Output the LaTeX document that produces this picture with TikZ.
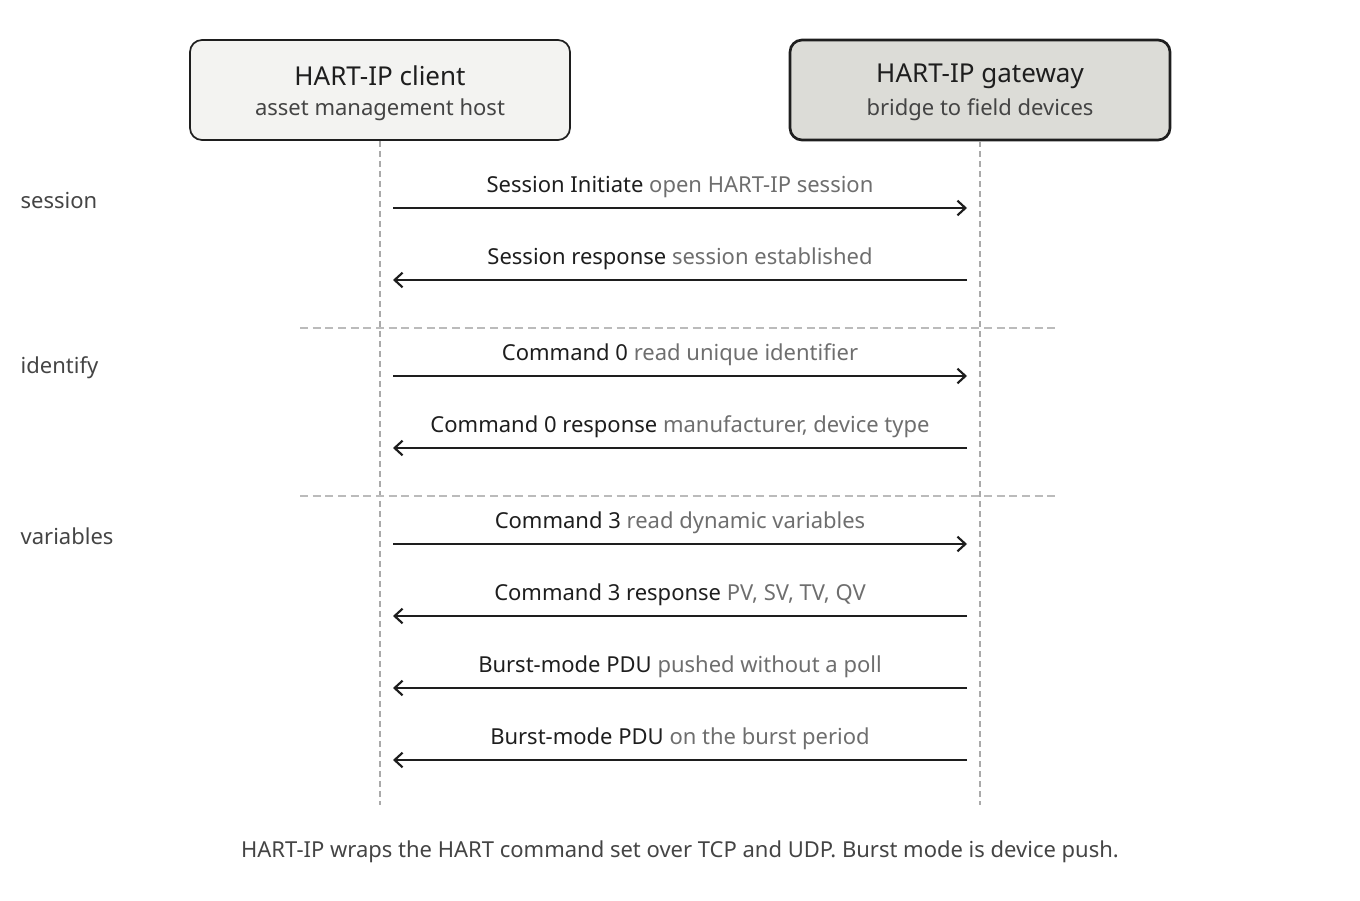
\documentclass[tikz,border=0pt]{standalone}
\usepackage{fontspec}
\setmainfont{Noto Sans}
\usetikzlibrary{arrows.meta}
\definecolor{boxa}{HTML}{F3F3F1}
\definecolor{boxb}{HTML}{DCDCD7}
\definecolor{ink}{HTML}{1E1E1E}
\definecolor{sub}{HTML}{444444}
\definecolor{note}{HTML}{6E6E6E}
\definecolor{life}{HTML}{AAAAAA}
\begin{document}
\begin{tikzpicture}[x=0.75pt,y=-0.75pt,
  actor/.style={draw=ink,rounded corners=9pt,minimum width=285pt,minimum height=75pt,align=center,inner sep=0pt},
  lifeline/.style={draw=life,dash pattern=on 4.5pt off 3pt,line width=0.9pt},
  sep/.style={draw=life!80,dash pattern=on 6pt off 3.5pt,line width=0.8pt},
  msg/.style={draw=ink,line width=1.6pt,-{Straight Barb[length=6pt,width=11pt,line width=1.6pt]}},
  lbl/.style={font=\fontsize{16.5}{18}\selectfont,text=ink,anchor=base},
  sec/.style={font=\fontsize{16.5}{18}\selectfont,text=sub,anchor=west}]
\useasboundingbox (0,0) rectangle (1360,900);
\node[actor,fill=boxa,line width=1.3pt] (c) at (380,90) {};
\node[actor,fill=boxb,line width=2pt] (g) at (980,90) {};
\node[font=\fontsize{19.5}{22}\selectfont,text=ink] at (380,76) {HART-IP client};
\node[font=\fontsize{16.5}{18}\selectfont,text=sub] at (380,110) {asset management host};
\node[font=\fontsize{19.5}{22}\selectfont,text=ink] at (980,76) {HART-IP gateway};
\node[font=\fontsize{16.5}{18}\selectfont,text=sub] at (980,110) {bridge to field devices};
\coordinate (ce) at (380,805); \coordinate (ge) at (980,805);
\draw[lifeline] (c.south) -- (ce);
\draw[lifeline] (g.south) -- (ge);
\coordinate (s1a) at (300,328); \coordinate (s1b) at (1060,328);
\coordinate (s2a) at (300,496); \coordinate (s2b) at (1060,496);
\draw[sep] (s1a) -- (s1b);
\draw[sep] (s2a) -- (s2b);
\node[sec] at (16,200) {session};
\node[sec] at (16,368) {identify};
\node[sec] at (16,536) {variables};
\foreach \y/\d/\b/\n in {208/r/Session Initiate/open HART-IP session,
  280/l/Session response/session established,
  376/r/Command 0/read unique identifier,
  448/l/Command 0 response/{manufacturer, device type},
  544/r/Command 3/read dynamic variables,
  616/l/Command 3 response/{PV, SV, TV, QV},
  688/l/Burst-mode PDU/pushed without a poll,
  760/l/Burst-mode PDU/on the burst period}{
  \coordinate (L\y) at (393,\y); \coordinate (R\y) at (967,\y);
  \if r\d \draw[msg] (L\y) -- (R\y); \else \draw[msg] (R\y) -- (L\y); \fi
  \node[lbl] at (680,\y-16) {\b\ \textcolor{note}{\n}};
}
\node[font=\fontsize{16.5}{18}\selectfont,text=sub] (cap) at (680,852) {HART-IP wraps the HART command set over TCP and UDP. Burst mode is device push.};
\end{tikzpicture}
\end{document}
